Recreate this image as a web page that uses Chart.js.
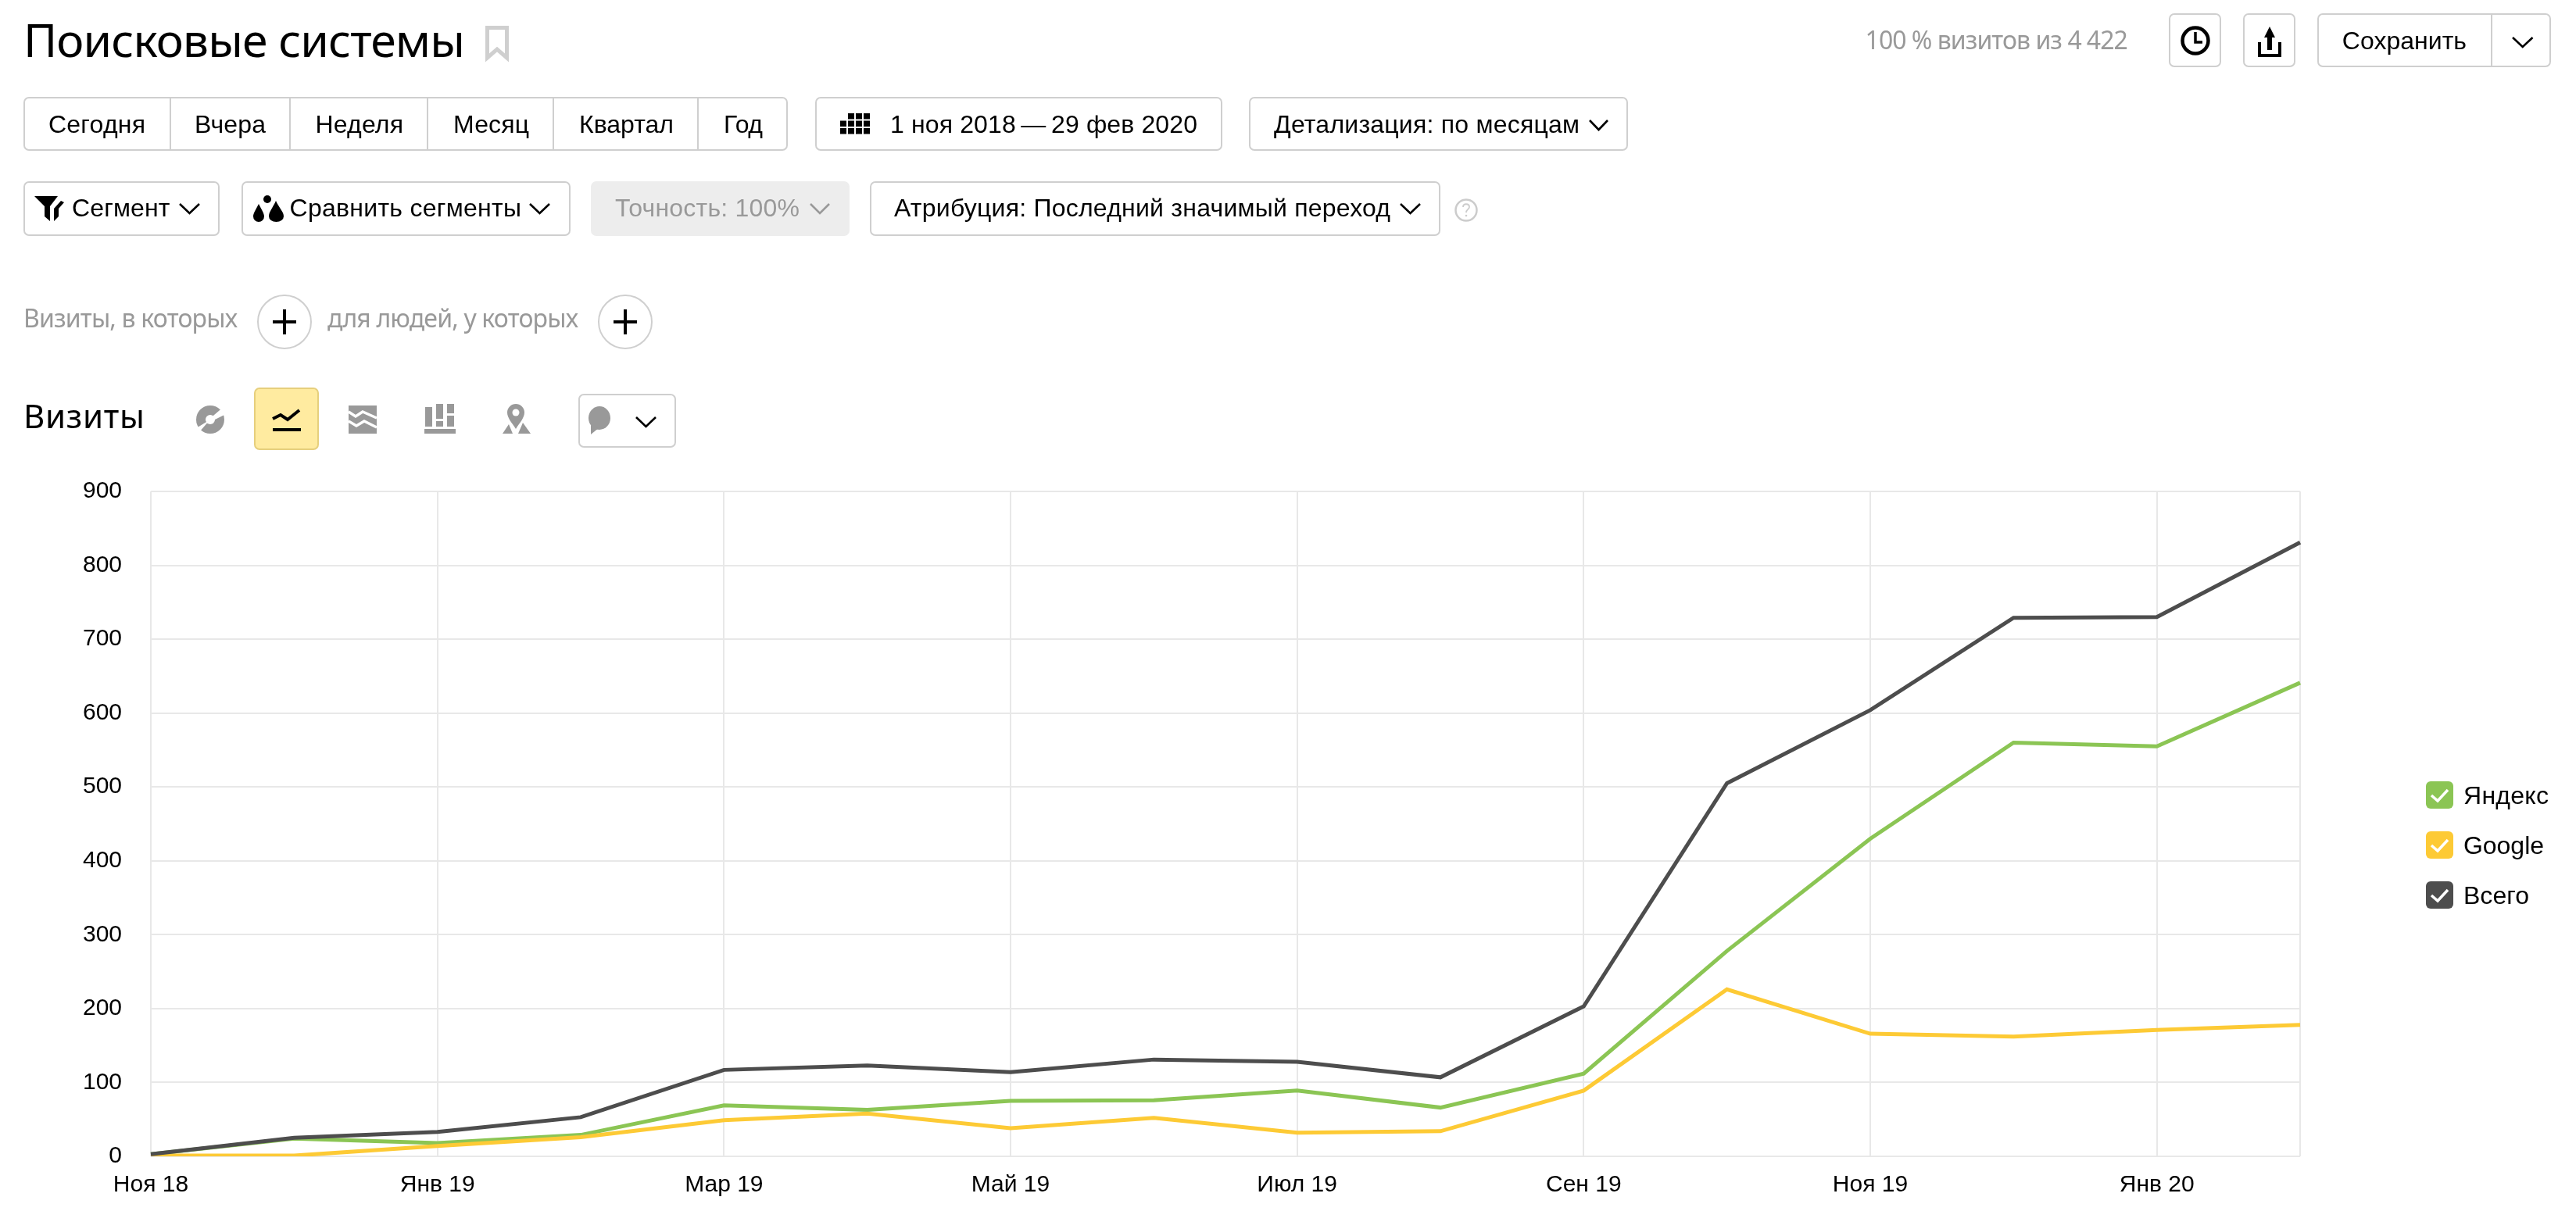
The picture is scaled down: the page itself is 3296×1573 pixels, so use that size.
<!DOCTYPE html>
<html lang="ru">
<head>
<meta charset="utf-8">
<title>Поисковые системы</title>
<script src="https://cdn.jsdelivr.net/npm/chart.js@4"></script>
<style>
html,body{margin:0;padding:0;background:#fff;width:3296px;height:1573px;overflow:hidden;font-family:"Liberation Sans",Arial,sans-serif;}
#ui{position:absolute;left:0;top:0;width:3296px;height:1573px;}
#chartWrap{position:absolute;left:0;top:500px;width:3296px;height:1073px;}
.box{position:absolute;box-sizing:border-box;border:2px solid #cfcfcf;border-radius:7px;background:#fff;}
.sep{position:absolute;width:2px;background:#cfcfcf;}
.t{position:absolute;white-space:nowrap;color:#000;font:32px/40px "Liberation Sans",Arial,sans-serif;}
.g{color:#999;font-family:"Noto Sans",sans-serif;}
.h{font-family:"Noto Sans",sans-serif;font-weight:400;}
svg{position:absolute;overflow:visible;}
</style>
</head>
<body>
<div id="chartWrap"><canvas id="c" width="3296" height="1073" style="width:3296px;height:1073px;display:block"></canvas></div>
<div id="ui"></div>
<script>
const categories = ["Ноя 18","Дек 18","Янв 19","Фев 19","Мар 19","Апр 19","Май 19","Июн 19","Июл 19","Авг 19","Сен 19","Окт 19","Ноя 19","Дек 19","Янв 20","Фев 20"];
const yandex = [3,24,18,29,69,63,75,76,89,66,112,278,430,560,555,641];
const google = [1,1,14,26,49,58,38,52,32,34,89,226,166,162,171,178];
const total  = [3,25,33,53,117,123,114,131,128,107,203,505,604,729,730,831];
const seriesNames = ["Яндекс","Google","Всего"];
const seriesColors = ["#8bc554","#fdca35","#4d4d4d"];
const yTicks = [0,100,200,300,400,500,600,700,800,900];

const chart = new Chart(document.getElementById('c'), {
  type: 'line',
  data: {
    labels: categories,
    datasets: [
      {label: seriesNames[0], data: yandex, borderColor: seriesColors[0], backgroundColor: seriesColors[0], order: 2},
      {label: seriesNames[1], data: google, borderColor: seriesColors[1], backgroundColor: seriesColors[1], order: 1},
      {label: seriesNames[2], data: total,  borderColor: seriesColors[2], backgroundColor: seriesColors[2], order: 0}
    ]
  },
  options: {
    responsive: false,
    animation: false,
    devicePixelRatio: 1,
    layout: {autoPadding: false, padding: {top: 129, right: 353, bottom: 0, left: 0}},
    elements: {
      line: {borderWidth: 5, tension: 0, borderJoinStyle: 'miter', borderCapStyle: 'butt'},
      point: {radius: 0, hoverRadius: 0}
    },
    plugins: {legend: {display: false}, tooltip: {enabled: false}, title: {display: false}},
    scales: {
      x: {
        type: 'category',
        offset: false,
        afterFit(s){ s.height = 93; },
        grid: {
          drawTicks: false,
          lineWidth: 2,
          color: ctx => (ctx.index % 2 === 0 || ctx.index === categories.length - 1) ? '#e8e8e8' : 'rgba(0,0,0,0)'
        },
        border: {display: false},
        ticks: {
          autoSkip: false, maxRotation: 0, minRotation: 0, padding: 19,
          color: '#000', font: {family: '"Liberation Sans"', size: 30},
          callback(v, i){ return i % 2 === 0 ? categories[i] : ''; }
        }
      },
      y: {
        min: yTicks[0],
        max: yTicks[yTicks.length - 1],
        afterFit(s){ s.width = 193; },
        afterBuildTicks(s){ s.ticks = yTicks.map(v => ({value: v})); },
        grid: {drawTicks: false, lineWidth: 2, color: '#e8e8e8'},
        border: {display: false},
        ticks: {padding: 37, color: '#000', font: {family: '"Liberation Sans"', size: 30}}
      }
    }
  }
});
// Keep the top of the plot on the intended page row, whatever the layout added.
const plotTopOnCanvas = 129;
const drift = chart.scales.y.top - plotTopOnCanvas;
if (Math.abs(drift) > 0.5) {
  chart.options.layout.padding.top -= drift;
  chart.update();
}

const ui = document.getElementById('ui');
function box(x0, y0, x1, y1, extra){
  const d = document.createElement('div'); d.className = 'box';
  d.style.cssText = `left:${x0}px;top:${y0}px;width:${x1-x0}px;height:${y1-y0}px;${extra||''}`;
  ui.appendChild(d);
}
function sep(x, y0, y1){
  const d = document.createElement('div'); d.className = 'sep';
  d.style.cssText = `left:${x-1}px;top:${y0}px;height:${y1-y0}px`;
  ui.appendChild(d);
}
function text(x0, x1, yc, s, cls, size){
  const d = document.createElement('span'); d.className = 't ' + (cls||'');
  d.textContent = s;
  if (size) d.style.fontSize = size + 'px';
  d.style.left = x0 + 'px';
  ui.appendChild(d);
  const h = d.getBoundingClientRect().height;
  d.style.top = (yc - h / 2) + 'px';
  const w = d.getBoundingClientRect().width;
  if (s.length > 1) d.style.letterSpacing = ((x1 - x0 - w) / (s.length - 1)) + 'px';
}
function svg(x, y, w, h, inner){
  ui.insertAdjacentHTML('beforeend', `<svg style="left:${x}px;top:${y}px" width="${w}" height="${h}" viewBox="0 0 ${w} ${h}">${inner}</svg>`);
}
function chev(x0, x1, yc, col){
  const w = x1 - x0;
  svg(x0, yc - 8, w, 16, `<path d="M1 2 L${w/2} 14 L${w-1} 2" fill="none" stroke="${col||'#000'}" stroke-width="2.6"/>`);
}

// header
text(30, 595, 50, 'Поисковые системы', 'h', 59);
svg(621, 33, 30, 45, '<path d="M2.5 2.5 H27.5 V41 L15 30 L2.5 41 Z" fill="none" stroke="#cfcfcf" stroke-width="5"/>');
text(2386.6, 2722.8, 51, '100\u2005% визитов из 4\u2005422', 'g', 32);
box(2774.5, 17, 2842, 86);
svg(2790, 33, 38, 38, '<circle cx="19" cy="19" r="16.5" fill="none" stroke="#000" stroke-width="4.5"/><path d="M19 8 V21 H28" fill="none" stroke="#000" stroke-width="3.5"/>');
box(2869.6, 17, 2937, 86);
svg(2889, 34, 30, 40, '<path d="M15 0 L22 14 H18 V30 H12 V14 H8 Z" fill="#000"/><path d="M2 20 V37 H28 V20" fill="none" stroke="#000" stroke-width="4"/>');
box(2964.7, 17, 3264.5, 86);
sep(3187.6, 17, 86);
text(2996.8, 3156, 52, 'Сохранить');
chev(3213.5, 3241, 54);

// row 1
box(30, 124, 1008, 193);
[217.5, 371, 547, 708, 893].forEach(x => sep(x, 124, 193));
text(62, 186, 159, 'Сегодня');
text(249, 340, 159, 'Вчера');
text(403.5, 516, 159, 'Неделя');
text(580, 677, 159, 'Месяц');
text(741, 862, 159, 'Квартал');
text(926, 976, 159, 'Год');
box(1043, 124, 1564, 193);
let cal = '';
[[0,1,2,3],[0,1,2,3],[0,1,2,3]].forEach((r, i) => r.forEach(j => { if (!(i === 0 && j === 0)) cal += `<rect x="${j*10}" y="${i*9.5}" width="8" height="7.5" fill="#000"/>`; }));
svg(1075, 145, 38, 27, cal);
text(1139, 1532, 159, '1 ноя 2018\u2009—\u200929 фев 2020');
box(1597.5, 124, 2083, 193);
text(1630, 2021, 159, 'Детализация: по месяцам');
chev(2033, 2058, 160);

// row 2
box(30, 232, 281, 301.5);
svg(44, 251, 42, 32, '<path d="M0 0 H30 L20 13 V32 L13 26 V13 Z" fill="#000"/><path d="M34 6 L25 16 V32 L31 26 V16 L38 8 Z" fill="#000"/>');
text(92, 217.5, 266, 'Сегмент');
chev(229, 256, 267);
box(309, 232, 730, 301.5);
svg(322, 250, 42, 34, '<path d="M9 11 C13 19 16 23 16 27 A7 7 0 0 1 2 27 C2 23 5 19 9 11 Z" fill="#000"/><circle cx="20" cy="5" r="5" fill="#000"/><path d="M31 7 C35 16 41 21 41 27 A9.5 7 0 0 1 22 27 C22 21 27 16 31 7 Z" fill="#000"/>');
text(370.5, 667, 266, 'Сравнить сегменты');
chev(677, 704, 267);
box(756, 232, 1087, 301.5, 'background:#ededed;border-color:#ededed;');
text(787, 1023, 266, 'Точность: 100%');
ui.lastChild.style.color = '#999';
chev(1036, 1062, 267, '#999');
box(1113, 232, 1842.5, 301.5);
text(1144, 1779, 266, 'Атрибуция: Последний значимый переход');
chev(1791, 1818, 267);
svg(1861, 254, 30, 30, '<circle cx="15" cy="15" r="13.5" fill="none" stroke="#ccc" stroke-width="2.5"/><path d="M11 11 C11 6 19 6 19 11 C19 14 15 14 15 18" fill="none" stroke="#ccc" stroke-width="1.8"/><circle cx="15" cy="22" r="1.3" fill="#ccc"/>');

// row 3
text(30, 304, 407, 'Визиты, в которых', 'g', 32);
text(419, 740, 407, 'для людей, у которых', 'g', 32);
[364, 800].forEach(cx => svg(cx - 35, 377, 70, 70, '<circle cx="35" cy="35" r="34" fill="#fff" stroke="#cfcfcf" stroke-width="2"/><path d="M35 19 V51 M20 35 H50" stroke="#000" stroke-width="4"/>'));

// row 4
text(30, 185, 532, 'Визиты', 'h', 42);
svg(251, 518, 36, 38, '<circle cx="18" cy="19" r="18" fill="#999"/><path d="M16 19 L36 2 V13 L18 22 Z M18 19 L3 36 L0 30 Z" fill="#fff"/><circle cx="18" cy="19" r="6" fill="#fff"/>');
box(325, 496, 408, 576, 'background:#ffeba0;border-color:#e6cf7d;');
svg(347, 522, 40, 36, '<path d="M2 14 L12 9 L21 15 L36 3" fill="none" stroke="#000" stroke-width="4"/><path d="M2 28 H38" stroke="#000" stroke-width="4"/>');
svg(446, 519, 36, 36, '<rect width="36" height="36" fill="#999"/><path d="M0 8 L9 14 L18 8 L36 16 M0 20 L10 26 L20 20 L36 28" fill="none" stroke="#fff" stroke-width="3.5"/>');
svg(543, 517, 40, 38, '<rect x="0" y="32" width="40" height="6" fill="#999"/><rect x="1" y="4" width="9" height="25" fill="#999"/><rect x="15" y="0" width="9" height="19" fill="#999"/><rect x="15" y="22" width="9" height="7" fill="#999"/><rect x="29" y="0" width="9" height="12" fill="#999"/><rect x="29" y="15" width="9" height="14" fill="#999"/>');
svg(643, 517, 36, 38, '<path d="M17 0 A11 11 0 0 1 28 11 C28 18 22 24 17 32 C12 24 6 18 6 11 A11 11 0 0 1 17 0 Z" fill="#999"/><circle cx="17" cy="11" r="4.5" fill="#fff"/><path d="M0 38 L8 26 L13 38 Z M20 38 L26 24 L36 38 Z" fill="#999"/>');
box(740, 504, 864.5, 573);
svg(750, 520, 32, 42, '<ellipse cx="17" cy="15" rx="14" ry="15" fill="#999"/><path d="M6 24 L6 36 L16 28 Z" fill="#999"/>');
chev(813, 840, 540);

// legend
const legY = [1018, 1082, 1146];
seriesNames.forEach((n, i) => {
  svg(3104, legY[i] - 18, 35, 35, `<rect width="35" height="35" rx="6" fill="${seriesColors[i]}"/><path d="M7 18 L15 25 L28 11" fill="none" stroke="#fff" stroke-width="3.5"/>`);
  text(3152, [3261, 3255, 3236][i], legY[i], n);
});
</script>
</body>
</html>
